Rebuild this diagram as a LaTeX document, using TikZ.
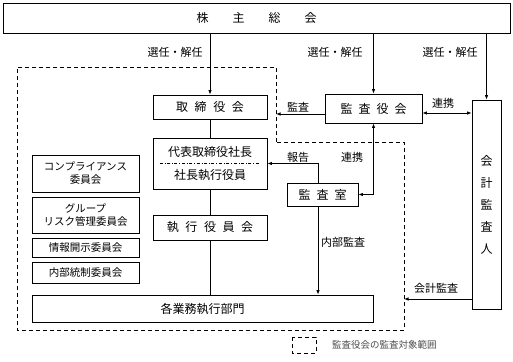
\documentclass[tikz,border=0pt]{standalone}
\usepackage{fontspec}
\setmainfont{Noto Sans CJK JP}
\usetikzlibrary{arrows.meta, positioning, calc}

\begin{document}
\begin{tikzpicture}[x=1pt, y=-1pt,
      box/.style={rectangle, draw=black, line width=0.8pt, inner sep=0pt,
        align=center, font=\fontsize{12}{14}\selectfont},
      cmt/.style={box, minimum width=107, font=\fontsize{10.5}{13}\selectfont},
      lbl/.style={inner sep=1pt, font=\fontsize{11}{13}\selectfont},
      arr/.style={-{Latex[length=4.5pt, width=3.5pt]}, line width=0.8pt},
      both/.style={{Latex[length=4.5pt, width=3.5pt]}-{Latex[length=4.5pt, width=3.5pt]}, line width=0.8pt},
      area/.style={line width=0.9pt, dash pattern=on 4pt off 3pt}
    ]
      \useasboundingbox (0,0) rectangle (513,361);

      % boxes
      \node[box, minimum width=507, minimum height=30] (soukai) at (256.5,18)
        {株\hspace{2em}主\hspace{2em}総\hspace{2em}会};
      \node[box, minimum width=114, minimum height=24] (torishimari) at (210,107)
        {取\hspace{0.55em}締\hspace{0.55em}役\hspace{0.55em}会};
      \node[box, minimum width=97, minimum height=29] (kansayaku) at (373.5,108.5)
        {監\hspace{0.5em}査\hspace{0.5em}役\hspace{0.5em}会};
      \node[box, minimum width=29, minimum height=209] (kaikei) at (486.5,204.5)
        {会\\[8pt]計\\[8pt]監\\[8pt]査\\[8pt]人};
      \node[box, minimum width=114, minimum height=51] (daihyo) at (210,163.5)
        {代表取締役社長\\[9pt]社長執行役員};
      \node[box, minimum width=114, minimum height=25] (shikko) at (210,227.5)
        {執\hspace{0.55em}行\hspace{0.55em}役\hspace{0.55em}員\hspace{0.55em}会};
      \node[box, minimum width=71, minimum height=23] (kansashitsu) at (322.5,194.5)
        {監\hspace{0.5em}査\hspace{0.5em}室};
      \node[box, minimum width=341, minimum height=27] (gyomu) at (202.5,308.5)
        {各業務執行部門};

      \node[cmt, minimum height=37] (comp) at (85.5,173.5) {コンプライアンス\\委員会};
      \node[cmt, minimum height=36] (risk) at (85.5,215) {グループ\\リスク管理委員会};
      \node[cmt, minimum height=19] (joho) at (85.5,247.5) {情報開示委員会};
      \node[cmt, minimum height=21] (naibu) at (85.5,272.5) {内部統制委員会};

      \draw[dash dot, line width=0.6pt] ([xshift=7pt]daihyo.west) -- ([xshift=-7pt]daihyo.east);

      % audit area
      \draw[area] (276,142) -- (276,67) -- (17,67) -- (17,330) -- (404,330) -- (404,142) -- cycle;
      \coordinate (d1) at (276,114);
      \coordinate (d2) at (404,299);
      \coordinate (c1) at (472,113);

      % connectors
      \draw[arr] (soukai.south -| torishimari) -- (torishimari.north);
      \draw[arr] (soukai.south -| kansayaku) -- (kansayaku.north);
      \draw[arr] (soukai.south -| kaikei) -- (kaikei.north);
      \draw[line width=0.8pt] (torishimari.south) -- (daihyo.north);
      \draw[line width=0.8pt] (daihyo.south) -- (shikko.north);
      \draw[line width=0.8pt] (shikko.south) -- (shikko.south |- gyomu.north);
      \draw[arr] (kansayaku.west |- d1) -- (d1);
      \draw[both] (kansayaku.east |- c1) -- (kaikei.west |- c1);
      \draw[arr] (kaikei.west |- d2) -- (d2);
      \draw[arr] ([xshift=-4.5pt]kansashitsu.north) |- (daihyo.east);
      \draw[both] (kansayaku.south) |- (kansashitsu.east);
      \draw[arr] ([xshift=-4.5pt]kansashitsu.south) -- ([xshift=-4.5pt]kansashitsu.south |- gyomu.north);

      % labels
      \node[lbl] (l1) at (175,52) {選任・解任};
      \node[lbl] (l2) at (335,52) {選任・解任};
      \node[lbl] (l3) at (450,52) {選任・解任};
      \node[lbl] (l4) at (298,107) {監査};
      \node[lbl] (l5) at (443,103) {連携};
      \node[lbl] (l6) at (298,157) {報告};
      \node[lbl] (l7) at (352,157) {連携};
      \node[lbl, anchor=west] (l8) at (320,242) {内部監査};
      \node[lbl] (l9) at (436,288) {会計監査};

      % legend
      \draw[area] (292,337) rectangle (316,353);
      \node[lbl, anchor=west, text=black!70, font=\fontsize{9.5}{11}\selectfont] (leg) at (331,345)
        {監査役会の監査対象範囲};
    \end{tikzpicture}
\end{document}
